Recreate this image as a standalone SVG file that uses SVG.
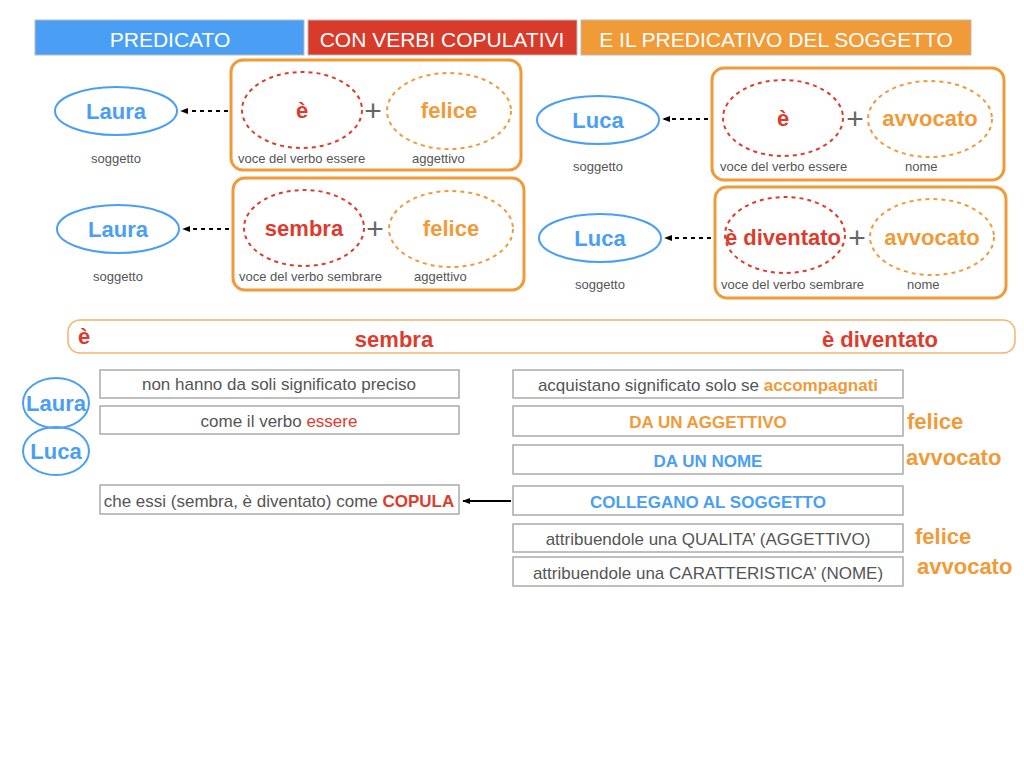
<svg xmlns="http://www.w3.org/2000/svg" width="1024" height="768" viewBox="0 0 1024 768">
<defs>
<style>
text{font-family:"Liberation Sans",Arial,sans-serif}
.hdr{font-size:21px;fill:#fff;text-anchor:middle}
.grp{fill:none;stroke:#F09A38;stroke-width:3}
.vr{fill:none;stroke:#DD3B2C;stroke-width:2;stroke-dasharray:4 4}
.vo{fill:none;stroke:#F09A38;stroke-width:2;stroke-dasharray:4 4}
.subj{fill:none;stroke:#4A9FF5;stroke-width:2}
.big{font-size:22px;font-weight:bold;text-anchor:middle}
.red{fill:#DD3B2C}
.org{fill:#F09A38}
.blu{fill:#4A9FF5}
.plus{font-size:30px;fill:#666;text-anchor:middle}
.sm{font-size:13px;fill:#555}
.box{fill:#fff;stroke:#AAAAAA;stroke-width:1.5}
.bt{font-size:17px;fill:#555;text-anchor:middle}
.bb{font-size:17px;font-weight:bold;text-anchor:middle}
.side{font-size:22px;font-weight:bold;fill:#F09A38}
</style>
<marker id="ah" viewBox="0 0 10 10" refX="9" refY="5" markerWidth="8" markerHeight="8" orient="auto-start-reverse" markerUnits="userSpaceOnUse">
<path d="M0,1 L10,5 L0,9 Z" fill="#000"/>
</marker>
</defs>

<g id="header">
<rect x="35" y="20" width="269" height="35" fill="#4A9FF5" stroke="#bbb"/>
<text class="hdr" x="170" y="47">PREDICATO</text>
<rect x="308" y="20" width="269" height="35" fill="#D93B2A" stroke="#bbb"/>
<text class="hdr" x="442" y="47">CON VERBI COPULATIVI</text>
<rect x="581" y="20" width="390" height="35" fill="#F09A38" stroke="#bbb"/>
<text class="hdr" x="776" y="47">E IL PREDICATIVO DEL SOGGETTO</text>
</g>

<g id="ex1">
<rect class="grp" x="231" y="60" width="290" height="110" rx="12"/>
<ellipse class="vr" cx="302" cy="110" rx="60" ry="38"/>
<ellipse class="vo" cx="449" cy="111" rx="62" ry="38"/>
<text class="big red" x="302" y="118">è</text>
<text class="big org" x="449" y="118">felice</text>
<text class="plus" x="373" y="121">+</text>
<text class="sm" x="238" y="163">voce del verbo essere</text>
<text class="sm" x="412" y="163">aggettivo</text>
</g>
<g id="subj1">
<ellipse class="subj" cx="116" cy="111" rx="61" ry="24"/>
<text class="big blu" x="116" y="119">Laura</text>
<text class="sm" x="116" y="163" text-anchor="middle">soggetto</text>
</g>

<g id="ex2">
<rect class="grp" x="233" y="178" width="291" height="112" rx="12"/>
<ellipse class="vr" cx="304" cy="228" rx="60" ry="38"/>
<ellipse class="vo" cx="451" cy="229" rx="62" ry="38"/>
<text class="big red" x="304" y="236">sembra</text>
<text class="big org" x="451" y="236">felice</text>
<text class="plus" x="375" y="239">+</text>
<text class="sm" x="239" y="281">voce del verbo sembrare</text>
<text class="sm" x="414" y="281">aggettivo</text>
</g>
<g id="subj2">
<ellipse class="subj" cx="118" cy="229" rx="61" ry="24"/>
<text class="big blu" x="118" y="237">Laura</text>
<text class="sm" x="118" y="281" text-anchor="middle">soggetto</text>
</g>

<g id="ex3">
<rect class="grp" x="712" y="68" width="292" height="112" rx="12"/>
<ellipse class="vr" cx="783" cy="118" rx="60" ry="38"/>
<ellipse class="vo" cx="930" cy="119" rx="62" ry="38"/>
<text class="big red" x="783" y="126">è</text>
<text class="big org" x="930" y="126">avvocato</text>
<text class="plus" x="855" y="129">+</text>
<text class="sm" x="720" y="171">voce del verbo essere</text>
<text class="sm" x="905" y="171">nome</text>
</g>
<g id="subj3">
<ellipse class="subj" cx="598" cy="120" rx="61" ry="24"/>
<text class="big blu" x="598" y="128">Luca</text>
<text class="sm" x="598" y="171" text-anchor="middle">soggetto</text>
</g>

<g id="ex4">
<rect class="grp" x="715" y="187" width="291" height="111" rx="12"/>
<ellipse class="vr" cx="785" cy="235" rx="60" ry="38"/>
<ellipse class="vo" cx="932" cy="237" rx="62" ry="38"/>
<text class="big red" x="783" y="245">è diventato</text>
<text class="big org" x="932" y="245">avvocato</text>
<text class="plus" x="857" y="248">+</text>
<text class="sm" x="721" y="289">voce del verbo sembrare</text>
<text class="sm" x="907" y="289">nome</text>
</g>
<g id="subj4">
<ellipse class="subj" cx="600" cy="238" rx="61" ry="24"/>
<text class="big blu" x="600" y="246">Luca</text>
<text class="sm" x="600" y="289" text-anchor="middle">soggetto</text>
</g>

<g id="verbs">
<rect x="68" y="320" width="947" height="33" rx="12" fill="none" stroke="#F5B36B" stroke-width="1.5"/>
<text class="big red" x="84" y="344">è</text>
<text class="big red" x="394" y="347">sembra</text>
<text class="big red" x="880" y="347">è diventato</text>
</g>

<g id="subjects">
<ellipse class="subj" cx="56" cy="403" rx="33" ry="25"/>
<text class="big blu" x="56" y="411">Laura</text>
<ellipse class="subj" cx="56" cy="451" rx="33" ry="24"/>
<text class="big blu" x="56" y="459">Luca</text>
</g>

<g id="b1"><rect class="box" x="100" y="370" width="359" height="28"/><text class="bt" x="279" y="390">non hanno da soli significato preciso</text></g>
<g id="b2"><rect class="box" x="100" y="406" width="359" height="28"/><text class="bt" x="279" y="427">come il verbo <tspan fill="#DD3B2C">essere</tspan></text></g>
<g id="b3"><rect class="box" x="100" y="485" width="359" height="29"/><text class="bt" x="279" y="507">che essi (sembra, è diventato) come <tspan font-weight="bold" fill="#DD3B2C">COPULA</tspan></text></g>

<g id="r1"><rect class="box" x="513" y="370" width="390" height="28"/><text class="bt" x="708" y="391">acquistano significato solo se <tspan font-weight="bold" fill="#F09A38">accompagnati</tspan></text></g>
<g id="r2"><rect class="box" x="513" y="406" width="390" height="30"/><text class="bb org" x="708" y="428">DA UN AGGETTIVO</text></g>
<g id="r3"><rect class="box" x="513" y="445" width="390" height="29"/><text class="bb blu" x="708" y="467">DA UN NOME</text></g>
<g id="r4"><rect class="box" x="513" y="486" width="390" height="29"/><text class="bb blu" x="708" y="508">COLLEGANO AL SOGGETTO</text></g>
<g id="r5"><rect class="box" x="513" y="524" width="390" height="28"/><text class="bt" x="708" y="545">attribuendole una QUALITA’ (AGGETTIVO)</text></g>
<g id="r6"><rect class="box" x="513" y="557" width="390" height="29"/><text class="bt" x="708" y="579">attribuendole una CARATTERISTICA’ (NOME)</text></g>

<g id="side">
<text class="side" x="907" y="429">felice</text>
<text class="side" x="906" y="465">avvocato</text>
<text class="side" x="915" y="544">felice</text>
<text class="side" x="917" y="574">avvocato</text>
</g>

<g id="connectors" fill="none" stroke="#000" stroke-width="2">
<line x1="228" y1="111" x2="181" y2="111" stroke-dasharray="4 4" marker-end="url(#ah)"/>
<line x1="229" y1="229" x2="183" y2="229" stroke-dasharray="4 4" marker-end="url(#ah)"/>
<line x1="708" y1="119" x2="663" y2="119" stroke-dasharray="4 4" marker-end="url(#ah)"/>
<line x1="711" y1="238" x2="665" y2="238" stroke-dasharray="4 4" marker-end="url(#ah)"/>
<line x1="511" y1="501" x2="463" y2="501" marker-end="url(#ah)"/>
</g>
</svg>
